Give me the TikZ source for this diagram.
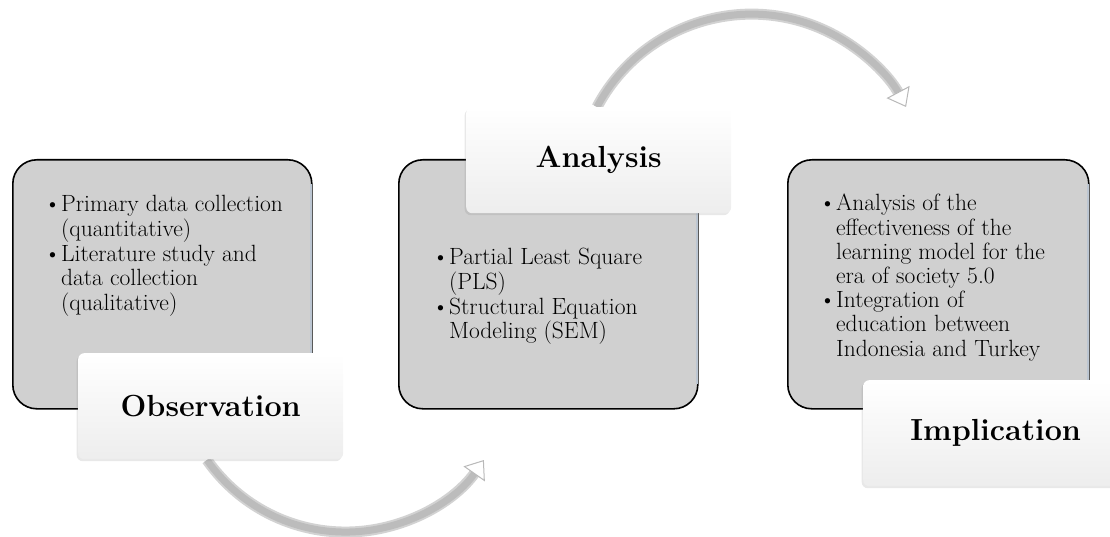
\documentclass[tikz,border=0pt]{standalone}
\usepackage{tikz}
\usetikzlibrary{arrows.meta, shadows, positioning}

\definecolor{boxgray}{RGB}{208,208,208}
\definecolor{rimblue}{RGB}{188,198,210}
\definecolor{arcgray}{RGB}{188,188,188}

\newcommand{\dotmark}{\textbullet\hspace{-4pt}}

\tikzset{
  stepbox/.style={fill=boxgray, draw=black, line width=1.6pt, rounded corners=24pt,
    minimum width=299pt, minimum height=249pt, inner sep=0pt, anchor=north west},
  rim/.style={draw=rimblue, line width=1.6pt},
  tagbox/.style={top color=white, bottom color=gray!14, rounded corners=6pt,
    minimum width=265pt, minimum height=106pt, inner sep=0pt, anchor=north west,
    font=\fontsize{30.5}{36}\selectfont\bfseries,
    drop shadow={opacity=0.18, shadow xshift=-1.5pt, shadow yshift=-2pt}},
  bullets/.style={anchor=base west, inner sep=0pt, font=\fontsize{23.5}{24.2}\selectfont},
  loop edge/.style={draw=gray!35, line width=11pt, shorten >=15pt},
  loop arc/.style={draw=arcgray, line width=7pt,
    -{Triangle[width=26pt, length=17pt, line width=1pt, fill=white, color=gray!55]}},
}

\begin{document}
\begin{tikzpicture}[x=1pt,y=1pt]
\useasboundingbox (0,0) rectangle (1110,536);

% curved arrows between the steps
\coordinate (obs-tail) at (207,76);
\coordinate (ana-tail) at (597,429);
\draw[loop edge] (obs-tail) arc[start angle=215, end angle=325, radius=169];
\draw[loop arc] (obs-tail) arc[start angle=215, end angle=325, radius=169];
\draw[loop edge] (ana-tail) arc[start angle=152, end angle=28, radius=175];
\draw[loop arc] (ana-tail) arc[start angle=152, end angle=28, radius=175];

% gray step boxes
\node[stepbox] (obsbox) at (12,377) {};
\node[stepbox] (anabox) at (398,377) {};
\node[stepbox, minimum width=301pt] (impbox) at (787,377) {};
\draw[rim] (311,352) -- (311,183);
\draw[rim] (697,323) -- (697,152);
\draw[rim] (1088,352) -- (1088,156);

% bullet lists
\node[bullets] (obslist) at (44,324) {%
  \begin{tabular}[t]{@{}l@{}l@{}}
  \dotmark & Primary data collection\\
           & (quantitative)\\
  \dotmark & Literature study and\\
           & data collection\\
           & (qualitative)
  \end{tabular}};
\node[bullets] (analist) at (432,271) {%
  \begin{tabular}[t]{@{}l@{}l@{}}
  \dotmark & Partial Least Square\\
           & (PLS)\\
  \dotmark & Structural Equation\\
           & Modeling (SEM)
  \end{tabular}};
\node[bullets] (implist) at (819,325) {%
  \begin{tabular}[t]{@{}l@{}l@{}}
  \dotmark & Analysis of the\\
           & effectiveness of the\\
           & learning model for the\\
           & era of society 5.0\\
  \dotmark & Integration of\\
           & education between\\
           & Indonesia and Turkey
  \end{tabular}};

% step titles
\node[tagbox] (obs) at (78,183) {Observation};
\node[tagbox] (ana) at (466,429) {Analysis};
\node[tagbox] (imp) at (863,156) {Implication};
\end{tikzpicture}
\end{document}
